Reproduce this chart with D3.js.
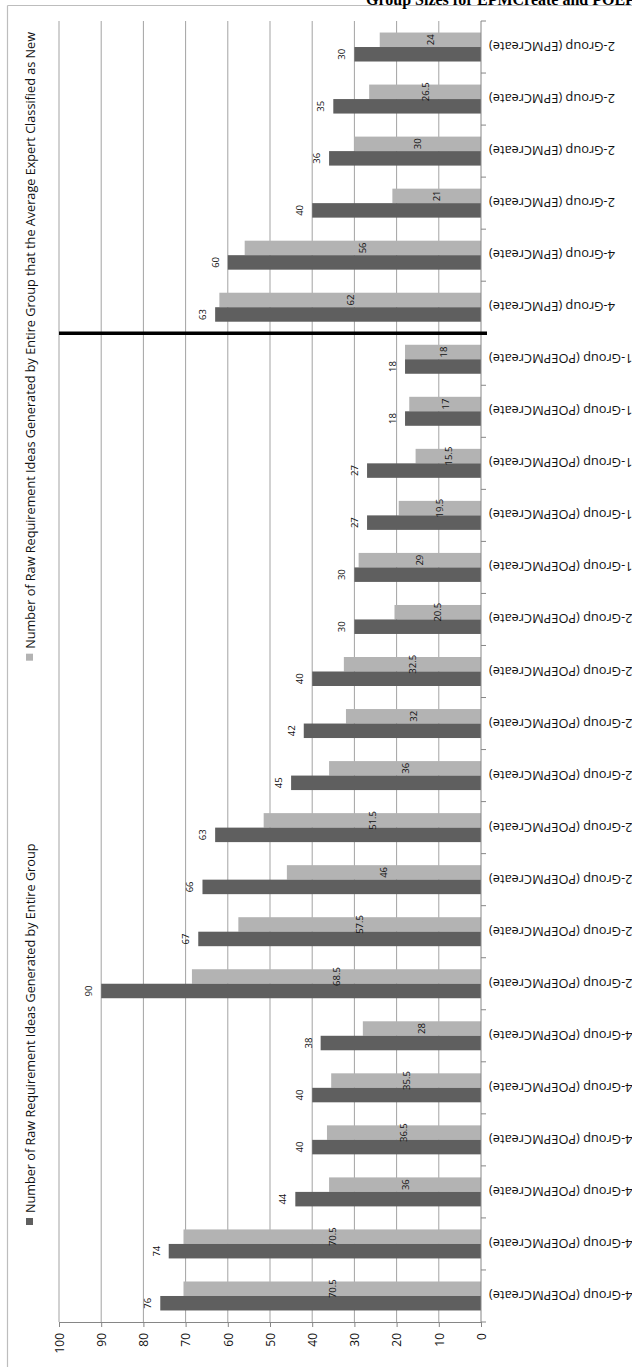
<!DOCTYPE html>
<html>
<head>
<meta charset="utf-8">
<script src="https://cdn.jsdelivr.net/npm/d3@7"></script>
<style>
  html, body { margin: 0; padding: 0; background: #fff; overflow: hidden; }
  svg { display: block; }
</style>
</head>
<body>
<svg id="chart" width="632" height="1367"></svg>
<script>
// Categories in drawing order (top to bottom of the rotated chart)
const categories = [
  "2-Group (EPMCreate)", "2-Group (EPMCreate)", "2-Group (EPMCreate)", "2-Group (EPMCreate)",
  "4-Group (EPMCreate)", "4-Group (EPMCreate)",
  "1-Group (POEPMCreate)", "1-Group (POEPMCreate)", "1-Group (POEPMCreate)", "1-Group (POEPMCreate)", "1-Group (POEPMCreate)",
  "2-Group (POEPMCreate)", "2-Group (POEPMCreate)", "2-Group (POEPMCreate)", "2-Group (POEPMCreate)",
  "2-Group (POEPMCreate)", "2-Group (POEPMCreate)", "2-Group (POEPMCreate)", "2-Group (POEPMCreate)",
  "4-Group (POEPMCreate)", "4-Group (POEPMCreate)", "4-Group (POEPMCreate)", "4-Group (POEPMCreate)",
  "4-Group (POEPMCreate)", "4-Group (POEPMCreate)"
];
// Raw requirement ideas generated by the entire group
const totalIdeas = [30, 35, 36, 40, 60, 63, 18, 18, 27, 27, 30, 30, 40, 42, 45, 63, 66, 67, 90, 38, 40, 40, 44, 74, 76];
// Of those, ideas the average expert classified as new
const newIdeas = [24, 26.5, 30, 21, 56, 62, 18, 17, 15.5, 19.5, 29, 20.5, 32.5, 32, 36, 51.5, 46, 57.5, 68.5, 28, 35.5, 36.5, 36, 70.5, 70.5];
const valueTicks = [0, 10, 20, 30, 40, 50, 60, 70, 80, 90, 100];
const seriesNames = [
  "Number of Raw Requirement Ideas Generated by Entire Group",
  "Number of Raw Requirement Ideas Generated by Entire Group that the Average Expert Classified as New"
];
const titleText = "Group Sizes for EPMCreate and POEPMCreate";
const separatorAfter = 6; // EPMCreate rows end here

const DARK = "#5f5f5f", LIGHT = "#b3b3b3", GRID = "#a3a3a3", AXIS = "#868686", FRAME = "#bdbdbd";
const FONT = "'Open Sans', 'DejaVu Sans', sans-serif";

const svg = d3.select("#chart");

// Scales: values run right-to-left, categories top-to-bottom
const plotTop = 21, plotBottom = 1322, plotLeft = 59, plotRight = 481;
const x = d3.scaleLinear().domain([0, 100]).range([plotRight, plotLeft]);
const y = d3.scaleBand().domain(d3.range(categories.length))
  .range([plotTop, plotBottom]).paddingInner(0.443).paddingOuter(0.2215);
const sub = d3.scaleBand().domain(["new", "total"]).range([0, y.bandwidth()]);

// Outer frame
svg.append("line").attr("x1", 7.5).attr("x2", 632).attr("y1", 5.5).attr("y2", 5.5)
  .attr("stroke", FRAME).attr("stroke-width", 1.2);
svg.append("line").attr("x1", 7.5).attr("x2", 7.5).attr("y1", 5.5).attr("y2", 1367)
  .attr("stroke", FRAME).attr("stroke-width", 1.2);

// Title (runs off the top edge of the page)
svg.append("text").attr("x", 366).attr("y", 4.5)
  .attr("font-family", "'Liberation Serif', 'DejaVu Serif', serif")
  .attr("font-weight", "bold").attr("font-size", 16).attr("fill", "#000")
  .text(titleText);

// Gridlines
svg.append("g").selectAll("line").data(valueTicks.filter(v => v > 0)).join("line")
  .attr("x1", d => x(d)).attr("x2", d => x(d))
  .attr("y1", plotTop).attr("y2", plotBottom)
  .attr("stroke", GRID).attr("stroke-width", 1);

// Bars
const rows = svg.append("g").selectAll("g").data(categories.map((c, i) => ({ c, i })))
  .join("g").attr("transform", d => `translate(0,${y(d.i)})`);

rows.append("rect")
  .attr("x", d => x(newIdeas[d.i])).attr("y", sub("new"))
  .attr("width", d => x(0) - x(newIdeas[d.i])).attr("height", sub.bandwidth())
  .attr("fill", LIGHT);
rows.append("rect")
  .attr("x", d => x(totalIdeas[d.i])).attr("y", sub("total"))
  .attr("width", d => x(0) - x(totalIdeas[d.i])).attr("height", sub.bandwidth())
  .attr("fill", DARK);

// Data labels
rows.append("text")
  .attr("transform", d => `translate(${x(newIdeas[d.i] / 2)},${sub("new") + sub.bandwidth() / 2}) rotate(-90)`)
  .attr("text-anchor", "middle").attr("dominant-baseline", "central")
  .attr("font-family", FONT).attr("font-size", 9.5).attr("fill", "#111")
  .text(d => newIdeas[d.i]);
rows.append("text")
  .attr("transform", d => `translate(${x(totalIdeas[d.i]) - 9},${sub("total") + sub.bandwidth() / 2}) rotate(-90)`)
  .attr("text-anchor", "middle")
  .attr("font-family", FONT).attr("font-size", 9.5).attr("fill", "#111")
  .text(d => totalIdeas[d.i]);

// Value axis along the bottom
const xAxis = svg.append("g").attr("transform", `translate(0,${plotBottom})`)
  .call(d3.axisBottom(x).tickValues(valueTicks).tickSize(5).tickSizeOuter(0));
xAxis.select(".domain").attr("stroke", AXIS);
xAxis.selectAll(".tick line").attr("stroke", AXIS);
xAxis.selectAll(".tick text")
  .attr("transform", "rotate(-90)")
  .attr("x", -11).attr("y", 0).attr("dy", "0.35em")
  .attr("text-anchor", "end")
  .attr("font-family", FONT).attr("font-size", 12).attr("fill", "#111");

// Category axis on the right
const step = y.step();
svg.append("line").attr("x1", plotRight).attr("x2", plotRight)
  .attr("y1", plotTop).attr("y2", plotBottom).attr("stroke", AXIS);
svg.append("g").selectAll("line").data(d3.range(categories.length + 1)).join("line")
  .attr("x1", plotRight).attr("x2", plotRight + 5)
  .attr("y1", d => plotTop + d * step).attr("y2", d => plotTop + d * step)
  .attr("stroke", AXIS);
svg.append("g").selectAll("text").data(categories.map((c, i) => ({ c, i }))).join("text")
  .attr("transform", d => `translate(489,${y(d.i) + y.bandwidth() / 2}) rotate(180)`)
  .attr("text-anchor", "end").attr("dominant-baseline", "central")
  .attr("font-family", FONT).attr("font-size", 12.8).attr("fill", "#111")
  .text(d => d.c);

// Separator between the EPMCreate and POEPMCreate groups
svg.append("line")
  .attr("x1", plotLeft).attr("x2", plotRight + 6)
  .attr("y1", plotTop + separatorAfter * step).attr("y2", plotTop + separatorAfter * step)
  .attr("stroke", "#000").attr("stroke-width", 3.5);

// Legend (rotated, reading upward along the left edge)
const legend = svg.append("g");
const legendBaseX = 35;
const l1 = legend.append("text")
  .attr("transform", `translate(${legendBaseX},1213) rotate(-90)`)
  .attr("font-family", FONT).attr("font-size", 12).attr("fill", "#111")
  .text(seriesNames[0]);
const l1len = l1.node().getComputedTextLength();
const fs = 12 * 370 / l1len;
l1.attr("font-size", fs);
legend.append("rect").attr("x", 26).attr("y", 1218).attr("width", 7).attr("height", 7).attr("fill", DARK);

const l2 = legend.append("text")
  .attr("font-family", FONT).attr("font-size", fs).attr("fill", "#111")
  .attr("text-anchor", "start")
  .text(seriesNames[1]);
const l2len = l2.node().getComputedTextLength();
const l2start = 32 + l2len;
l2.attr("transform", `translate(${legendBaseX},${l2start}) rotate(-90)`);
legend.append("rect").attr("x", 26).attr("y", l2start + 5).attr("width", 7).attr("height", 7).attr("fill", LIGHT);
</script>
</body>
</html>
